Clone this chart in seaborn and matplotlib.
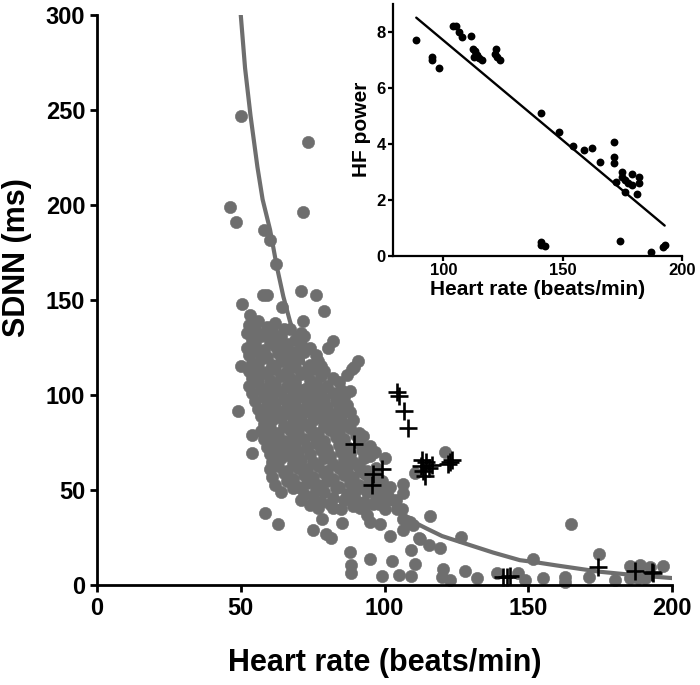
import matplotlib
matplotlib.use('Agg')
import matplotlib.pyplot as plt
import seaborn as sns
import pandas as pd

# ---- main panel: gray dense cloud (heart rate, SDNN) ----
core_hr = [53, 56, 59, 62, 65,
           52, 55, 58, 61, 64, 67, 71,
           54, 57, 60, 63, 66, 69, 72,
           52, 55, 58, 62, 65, 68, 71, 74,
           53, 56, 59, 63, 66, 69, 72, 76,
           54, 57, 61, 64, 67, 70, 74, 77,
           53, 56, 59, 62, 66, 69, 72, 75, 79,
           54, 57, 60, 64, 67, 71, 74, 78, 82,
           53, 56, 59, 62, 66, 69, 73, 76, 80, 84,
           54, 57, 61, 64, 68, 71, 75, 78, 82, 85,
           55, 58, 62, 65, 69, 72, 76, 79, 83, 86,
           56, 59, 63, 66, 70, 73, 77, 80, 84, 87,
           57, 60, 64, 67, 71, 74, 78, 81, 85, 88,
           58, 61, 65, 68, 72, 75, 79, 82, 86, 89,
           57, 60, 63, 67, 70, 74, 77, 81, 84, 88, 91,
           58, 61, 65, 68, 72, 75, 79, 83, 86, 90,
           59, 62, 66, 69, 73, 76, 80, 84, 87, 91,
           60, 63, 67, 70, 74, 78, 81, 85, 88, 92, 95,
           61, 64, 68, 71, 75, 79, 82, 86, 89, 93,
           60, 63, 66, 70, 73, 77, 80, 84, 87, 91, 94, 97,
           61, 65, 68, 72, 75, 79, 82, 86, 89, 93, 96,
           62, 66, 70, 73, 77, 80, 84, 88, 91, 95, 98,
           64, 68, 72, 76, 79, 83, 87, 90, 94, 97, 100,
           71, 75, 78, 82, 86, 89, 93, 97, 101,
           77, 81, 85, 89, 93, 98]
core_sdnn = [137, 139, 136, 138, 135,
             133, 135, 132, 134, 131, 135, 133,
             129, 131, 128, 130, 127, 129, 131,
             125, 127, 124, 126, 125, 123, 127, 125,
             121, 123, 120, 122, 121, 119, 123, 121,
             117, 119, 116, 118, 117, 119, 116, 118,
             113, 115, 112, 114, 113, 115, 112, 114, 113,
             109, 111, 108, 110, 109, 111, 108, 110, 109,
             105, 107, 104, 106, 105, 107, 104, 106, 105, 107,
             101, 103, 100, 102, 101, 103, 100, 102, 101, 103,
             97, 99, 96, 98, 97, 99, 96, 98, 97, 99,
             93, 95, 92, 94, 93, 95, 92, 94, 93, 95,
             89, 91, 88, 90, 89, 91, 88, 90, 89, 91,
             85, 87, 84, 86, 85, 87, 84, 86, 85, 87,
             81, 83, 80, 82, 81, 83, 80, 82, 81, 83, 80,
             77, 79, 76, 78, 77, 79, 76, 78, 77, 79,
             73, 75, 72, 74, 73, 75, 72, 74, 73, 75,
             69, 71, 68, 70, 69, 71, 68, 70, 69, 71, 68,
             65, 67, 64, 66, 65, 67, 64, 66, 65, 67,
             61, 63, 60, 62, 61, 63, 60, 62, 61, 63, 60, 62,
             57, 59, 56, 58, 57, 59, 56, 58, 57, 59, 56,
             53, 55, 52, 54, 53, 55, 52, 54, 53, 55, 52,
             49, 51, 48, 50, 49, 51, 48, 50, 49, 51, 48,
             45, 47, 44, 46, 45, 47, 44, 46, 45,
             41, 43, 40, 42, 41, 43]

# ---- main panel: scattered gray points around the cloud ----
outer_hr = [50.2, 73.5, 46.3, 48.3, 71.8, 58.2, 60.3, 62.3,
            57.6, 59.0, 70.9, 76.2, 50.3, 53.2, 79.0, 71.7,
            64.2, 82.0, 80.2, 90.8, 89.4, 86.9, 88.0, 50.1,
            49.0, 85.1, 77.8, 88.6, 53.8, 53.8, 58.4, 63.1,
            74.1, 78.2, 82.2, 75.3, 79.7, 81.4, 85.3, 88.0,
            88.2, 88.2, 95.0, 99.0, 102.5, 105.1, 109.1, 109.1,
            110.6, 112.1, 115.6, 115.8, 119.3, 106.5, 106.3, 101.9,
            106.5, 106.5, 120.5, 122.8, 121.0, 110.6, 91.5, 93.8,
            95.0, 98.4, 96.1, 100.2, 101.3, 100.2, 96.7, 95.0,
            92.6, 89.7, 104.5, 107.7, 110.0, 106.0, 108.9, 112.3,
            126.6, 119.9, 128.0, 132.0, 139.2, 146.5, 148.9, 151.8,
            155.0, 162.8, 162.8, 164.8, 171.2, 174.6, 180.2, 185.4,
            188.9, 185.4, 188.3, 190.6, 192.3, 196.8, 97.0, 99.0,
            102.0, 98.0, 104.0]
outer_sdnn = [246.8, 233.4, 199.0, 191.0, 196.2, 187.0, 181.8, 168.8,
              153.0, 153.0, 154.8, 153.0, 147.8, 142.0, 144.1, 138.9,
              146.7, 128.4, 124.7, 118.1, 114.8, 110.7, 102.4, 115.3,
              91.9, 97.1, 115.3, 113.7, 79.3, 69.7, 38.1, 32.5,
              42.5, 35.1, 40.7, 29.4, 27.3, 25.2, 32.9, 17.7,
              10.6, 6.8, 13.8, 4.9, 12.7, 5.4, 4.9, 18.9,
              11.2, 25.0, 21.1, 36.3, 19.8, 35.1, 29.0, 26.0,
              53.5, 48.7, 8.9, 2.8, 70.1, 59.2, 40.7, 36.8,
              33.4, 32.5, 43.0, 40.4, 47.3, 66.9, 70.1, 73.5,
              78.8, 45.6, 40.4, 33.7, 31.6, 40.4, 33.4, 24.6,
              25.5, 4.6, 7.7, 3.7, 6.3, 6.3, 2.8, 13.8,
              3.7, 4.6, 1.9, 32.5, 4.6, 16.8, 2.8, 10.3,
              10.6, 3.7, 3.7, 3.7, 9.8, 10.1, 57.0, 55.0,
              52.0, 50.0, 45.0]

# ---- main panel: black "+" points ----
plus_hr = [104.5, 105.0, 106.8, 108.3, 89.4, 96.1, 99.0, 95.5,
           112.8, 113.5, 114.5, 115.5, 114.0, 116.5, 113.0, 122.2,
           123.5, 122.8, 141.3, 142.7, 143.5, 174.4, 187.1, 192.9, 193.5]
plus_sdnn = [101.5, 99.5, 91.6, 82.8, 74.4, 58.7, 61.3, 52.9,
             63.0, 60.0, 65.0, 62.0, 57.5, 63.5, 66.0, 63.9,
             66.0, 65.0, 4.6, 4.6, 5.2, 9.8, 7.5, 7.2, 6.3]

# ---- main panel: fitted curve ----
curve_hr = [50, 51.5, 53.4, 55.8, 57.6, 60.2, 62.5, 64.8, 67.1, 68.6,
            75, 80, 85, 90, 95, 100, 103.1, 108, 114.7, 120,
            126.3, 137.8, 147.1, 151.8, 160, 175, 188, 200]
curve_sdnn = [300, 272, 247, 220, 203, 187, 168, 152, 139, 132,
              103, 86, 72, 61, 53, 46, 42.1, 35, 29.9, 26,
              22.9, 17.3, 13.3, 12.4, 10.5, 7.2, 5.3, 3.9]

# ---- inset: HF power vs heart rate ----
hf_hr = [88.6, 95.1, 95.1, 98.2, 103.8, 105.1, 106.5, 107.9, 111.5, 112.2,
         113.2, 113.9, 112.9, 114.9, 116.3, 121.8, 121.5, 122.6, 123.6, 140.7,
         148.3, 154.2, 158.8, 162.2, 165.4, 171.5, 171.5, 171.5, 172.2, 174.7,
         174.7, 175.9, 175.9, 177.1, 178.9, 178.9, 181.0, 181.9, 181.9, 174.0,
         140.7, 141.0, 142.6, 186.8, 191.9, 192.6]
hf_power = [7.70, 7.11, 6.99, 6.69, 8.20, 8.20, 8.00, 7.82, 7.85, 7.40,
            7.31, 7.17, 7.11, 7.05, 6.99, 7.40, 7.20, 7.11, 6.99, 5.08,
            4.43, 3.92, 3.77, 3.83, 3.33, 4.05, 3.54, 3.32, 2.62, 3.00,
            2.82, 2.70, 2.26, 2.58, 2.92, 2.52, 2.20, 2.82, 2.58, 0.51,
            0.50, 0.40, 0.36, 0.12, 0.30, 0.38]

main_xticks = [0, 50, 100, 150, 200]
main_yticks = [0, 50, 100, 150, 200, 250, 300]
inset_xticks = [100, 150, 200]
inset_yticks = [0, 2, 4, 6, 8]

sns.set_theme(style='ticks')
plt.rcParams['font.family'] = ['Liberation Sans', 'DejaVu Sans']
plt.rcParams['font.weight'] = 'bold'
plt.rcParams['axes.labelweight'] = 'bold'

gray = '#6e6e6e'
fig = plt.figure(figsize=(7, 6.85), dpi=100)
ax = fig.add_axes([0.1386, 0.1453, 0.8214, 0.8328])

df_gray = pd.DataFrame({'hr': core_hr + outer_hr, 'sdnn': core_sdnn + outer_sdnn})
sns.scatterplot(data=df_gray, x='hr', y='sdnn', ax=ax, color=gray, s=78,
                edgecolor=gray, linewidth=0.4, alpha=1, clip_on=False, zorder=2)
sns.lineplot(x=curve_hr, y=curve_sdnn, ax=ax, color=gray, linewidth=3,
             sort=False, estimator=None, zorder=3)
sns.scatterplot(x=plus_hr, y=plus_sdnn, ax=ax, marker='+', color='black',
                s=170, linewidth=1.9, zorder=4, clip_on=False)

ax.set_xlim(0, 200)
ax.set_ylim(0, 300)
ax.set_xticks(main_xticks)
ax.set_yticks(main_yticks)
sns.despine(ax=ax)
for side in ['left', 'bottom']:
    ax.spines[side].set_linewidth(2.0)
    ax.spines[side].set_color('black')
ax.tick_params(length=5, width=2, labelsize=17, colors='black', direction='out')
ax.set_xlabel('Heart rate (beats/min)', fontsize=22, fontweight='bold', labelpad=20, color='black')
ax.set_ylabel('SDNN (ms)', fontsize=22, fontweight='bold', color='black')
ax.yaxis.set_label_coords(-0.113, 0.574)

# inset
axin = fig.add_axes([0.5619, 0.6267, 0.4129, 0.3679])
sns.regplot(x=hf_hr, y=hf_power, ax=axin, ci=None, color='black',
            scatter_kws={'s': 32, 'linewidths': 0, 'alpha': 1, 'clip_on': False},
            line_kws={'linewidth': 1.7})
axin.set_xlim(79, 200)
axin.set_ylim(0, 9)
axin.set_xticks(inset_xticks)
axin.set_yticks(inset_yticks)
sns.despine(ax=axin)
for side in ['left', 'bottom']:
    axin.spines[side].set_linewidth(1.6)
    axin.spines[side].set_color('black')
axin.tick_params(length=3.5, width=1.6, labelsize=12, colors='black', direction='out', pad=2)
axin.set_xlabel('Heart rate (beats/min)', fontsize=15, fontweight='bold', labelpad=1, color='black')
axin.set_ylabel('HF power', fontsize=15, fontweight='bold', labelpad=4, color='black')

fig.savefig('out.png', dpi=100)
